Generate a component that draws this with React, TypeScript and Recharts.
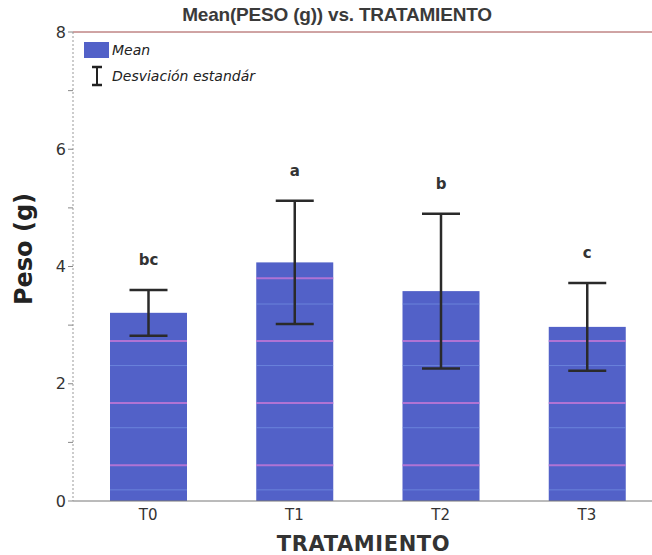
import React from 'react';
import {
  ComposedChart,
  Bar,
  ErrorBar,
  LabelList,
  XAxis,
  YAxis,
  ReferenceLine,
} from 'recharts';

const treatments = ['T0', 'T1', 'T2', 'T3'];
const means = [3.21, 4.07, 3.58, 2.97];
const stdDevs = [0.39, 1.05, 1.32, 0.75];
const groups = ['bc', 'a', 'b', 'c'];
const yTicks = [0, 1, 2, 3, 4, 5, 6, 7, 8];
// faint scan stripes seen through the bars (y values)
const pinkStripes = [0.61, 1.67, 2.73, 3.8];
const blueStripes = [0.19, 1.25, 2.31, 3.36];

const data = treatments.map((t, i) => ({
  name: t,
  mean: means[i],
  sd: stdDevs[i],
  group: groups[i],
}));

const BAR_COLOR = '#5261c8';
const VERDANA = 'Verdana, "DejaVu Sans", sans-serif';

function StripedBar(props: any) {
  const { x, y, width, height, value } = props;
  const perUnit = value ? height / value : 0;
  const base = y + height;
  return (
    <g>
      <rect x={x} y={y} width={width} height={height} fill={BAR_COLOR} />
      {blueStripes
        .filter((s) => s < value)
        .map((s) => (
          <line key={'b' + s} x1={x} x2={x + width} y1={base - s * perUnit} y2={base - s * perUnit} stroke="#7a9ae8" strokeWidth={1} opacity={0.6} />
        ))}
      {pinkStripes
        .filter((s) => s < value)
        .map((s) => (
          <line key={'p' + s} x1={x} x2={x + width} y1={base - s * perUnit} y2={base - s * perUnit} stroke="#c878d8" strokeWidth={2} opacity={0.8} />
        ))}
    </g>
  );
}

function GroupLabel(props: any) {
  const { x, y, width, height, value, index } = props;
  const perUnit = value ? height / value : 0;
  const top = y - stdDevs[index] * perUnit;
  return (
    <text
      x={x + width / 2}
      y={top - 25}
      textAnchor="middle"
      fontFamily={VERDANA}
      fontWeight="bold"
      fontSize={15}
      fill="#333"
    >
      {groups[index]}
    </text>
  );
}

function LegendBox() {
  return (
    <div
      style={{
        position: 'absolute',
        left: 84,
        top: 41,
        fontFamily: VERDANA,
        fontStyle: 'italic',
        fontSize: 14,
        color: '#222',
      }}
    >
      <div style={{ display: 'flex', alignItems: 'center', height: 18 }}>
        <span style={{ display: 'inline-block', width: 25, height: 16, background: BAR_COLOR, marginRight: 3 }} />
        <span>Mean</span>
      </div>
      <div style={{ display: 'flex', alignItems: 'center', height: 22, marginTop: 6 }}>
        <svg width={28} height={22}>
          <line x1={8} x2={18} y1={2} y2={2} stroke="#222" strokeWidth={2.5} />
          <line x1={13} x2={13} y1={2} y2={20} stroke="#222" strokeWidth={2} />
          <line x1={8} x2={18} y1={20} y2={20} stroke="#222" strokeWidth={2.5} />
        </svg>
        <span>Desviación estandár</span>
      </div>
    </div>
  );
}

export default function App() {
  return (
    <div style={{ position: 'absolute', left: 0, top: 0, width: 652, height: 555, overflow: 'hidden', background: '#fff' }}>
      <ComposedChart
        width={660}
        height={555}
        data={data}
        margin={{ top: 32, right: 0, bottom: 0, left: 0 }}
      >
        <XAxis
          dataKey="name"
          height={54}
          padding={{ left: 2, right: 0 }}
          tickLine={false}
          axisLine={{ stroke: '#777' }}
          tick={{ fontFamily: VERDANA, fontSize: 15, fill: '#333' }}
          label={{
            value: 'TRATAMIENTO',
            position: 'insideBottom',
            offset: 4,
            dx: -3,
            style: { fontFamily: VERDANA, fontWeight: 'bold', fontSize: 21, letterSpacing: 0.6, fill: '#333' },
          }}
        />
        <YAxis
          width={73}
          domain={[0, 8]}
          ticks={yTicks}
          interval={0}
          tickFormatter={(v: number) => (v % 2 === 0 ? String(v) : '')}
          tickSize={5}
          tickLine={{ stroke: '#888' }}
          axisLine={{ stroke: '#999', strokeDasharray: '2 2' }}
          tick={{ fontFamily: VERDANA, fontSize: 16, fill: '#333' }}
          label={{
            value: 'Peso (g)',
            content: (p: any) => (
              <text
                x={24}
                y={249}
                transform="rotate(-90 24 249)"
                textAnchor="middle"
                dominantBaseline="central"
                fontFamily={VERDANA}
                fontWeight="bold"
                fontSize={24}
                fill="#222"
              >
                {p.value}
              </text>
            ),
          }}
        />
        <ReferenceLine y={8} stroke="#a04848" strokeWidth={1} />
        <Bar dataKey="mean" name="Mean" fill={BAR_COLOR} barSize={77} shape={<StripedBar />} isAnimationActive={false}>
          <ErrorBar dataKey="sd" width={19} stroke="#2a2a2a" strokeWidth={2.5} direction="y" />
          <LabelList dataKey="mean" content={<GroupLabel />} />
        </Bar>
      </ComposedChart>
      <div
        style={{
          position: 'absolute',
          left: 0,
          width: 674,
          top: 4,
          textAlign: 'center',
          fontFamily: 'Arial, "Liberation Sans", sans-serif',
          fontWeight: 'bold',
          fontSize: 19,
          color: '#3a3a3a',
          letterSpacing: -0.2,
        }}
      >
        Mean(PESO (g)) vs. TRATAMIENTO
      </div>
      <LegendBox />
    </div>
  );
}
